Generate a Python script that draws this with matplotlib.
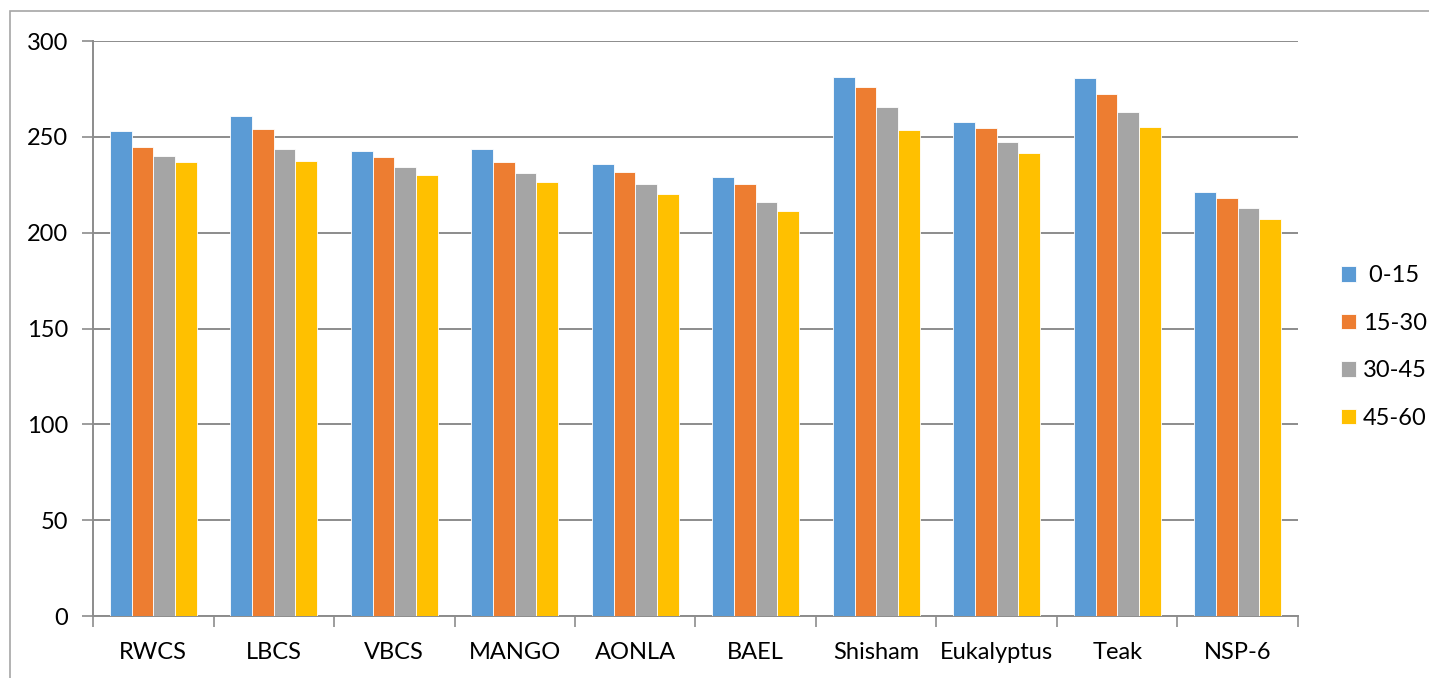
import numpy as np
import matplotlib
matplotlib.use("Agg")
import matplotlib.pyplot as plt
from matplotlib.patches import Rectangle

plt.rcParams['font.family'] = ['Lato', 'DejaVu Sans']

# soil depth classes (cm) and land-use systems
sites = ["RWCS", "LBCS", "VBCS", "MANGO", "AONLA", "BAEL",
         "Shisham", "Eukalyptus", "Teak", "NSP-6"]
depths = [" 0-15", "15-30", "30-45", "45-60"]
colors = ["#5B9BD5", "#ED7D31", "#A5A5A5", "#FFC000"]

d0_15 = [253.2, 260.9, 242.4, 243.5, 235.8, 229.0, 281.2, 257.7, 280.9, 221.0]
d15_30 = [244.9, 254.1, 239.5, 236.9, 231.5, 225.4, 275.8, 254.6, 272.3, 218.1]
d30_45 = [240.2, 243.8, 234.1, 231.1, 225.2, 216.2, 265.6, 247.5, 263.1, 212.7]
d45_60 = [236.9, 237.4, 230.1, 226.4, 220.2, 211.3, 253.6, 241.4, 255.1, 207.3]
series = [d0_15, d15_30, d30_45, d45_60]

fs = 17

fig = plt.figure(figsize=(14.29, 6.78), dpi=100)
ax = fig.add_axes([0.0651, 0.0914, 0.8432, 0.8481])

x = np.arange(len(sites))
w = 0.18
for i, (vals, c, lab) in enumerate(zip(series, colors, depths)):
    ax.bar(x + (i - 1.5) * w, vals, width=w, color=c, label=lab,
           edgecolor='white', linewidth=0.6, zorder=3)

ax.set_xlim(-0.5, len(sites) - 0.5)
ax.set_ylim(0, 300)
ax.set_yticks(np.arange(0, 301, 50))
ax.yaxis.grid(True, color='#8c8c8c', linewidth=1.4, zorder=0)

# category boundaries get the ticks, names sit in between
ax.set_xticks(np.arange(-0.5, len(sites), 1.0))
ax.set_xticklabels([])
ax.set_xticks(x, minor=True)
ax.set_xticklabels(sites, minor=True)
ax.tick_params(axis='x', which='major', length=8, width=1.2, color='#8c8c8c')
ax.tick_params(axis='x', which='minor', length=0, pad=19, labelsize=fs)
ax.tick_params(axis='y', length=8, width=1.2, color='#8c8c8c', pad=10,
               labelsize=fs)

for s in ['top', 'right']:
    ax.spines[s].set_visible(False)
for s in ['left', 'bottom']:
    ax.spines[s].set_color('#8c8c8c')
    ax.spines[s].set_linewidth(1.4)

leg = fig.legend(loc='center left', bbox_to_anchor=(1341 / 1429, 0.488),
                 frameon=False, fontsize=fs, handlelength=0.64,
                 handleheight=0.64, handletextpad=0.3, labelspacing=1.12,
                 borderpad=0, borderaxespad=0)

# chart border
fig.patches.append(Rectangle((10 / 1429, -0.05), 1.1, (678 - 11) / 678 + 0.05,
                             transform=fig.transFigure, fill=False,
                             edgecolor='#a6a6a6', linewidth=1.2))

fig.savefig("out.png", dpi=100)
